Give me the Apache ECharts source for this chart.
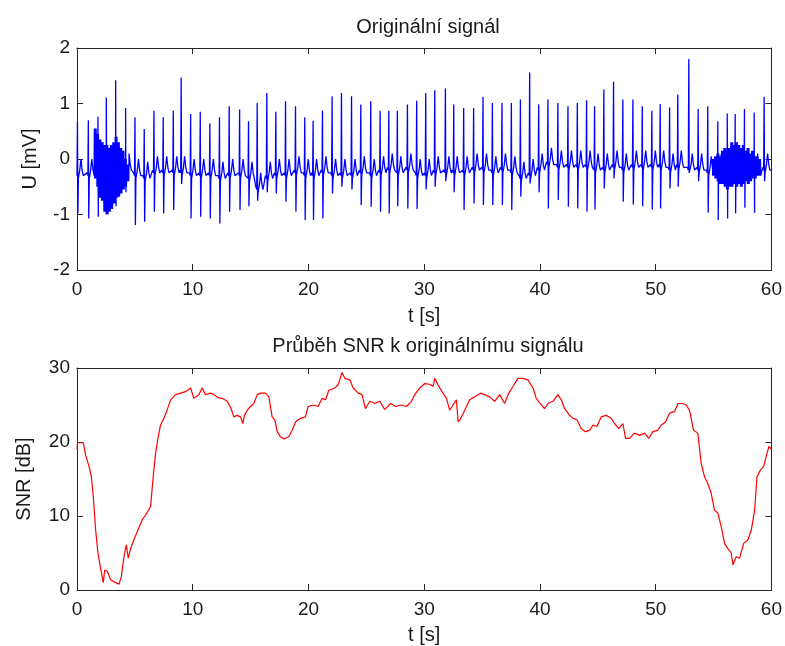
<!DOCTYPE html>
<html><head><meta charset="utf-8">
<script src="https://cdn.jsdelivr.net/npm/echarts@6/dist/echarts.min.js"></script>
<style>html,body{margin:0;padding:0;background:#fff}#c{width:785px;height:646px}</style>
</head><body><div id="c"></div>
<script>
// ---- data ----
const xTicks = [0, 10, 20, 30, 40, 50, 60];
const uTicks = [-2, -1, 0, 1, 2];
const snrTicks = [0, 10, 20, 30];

// beats: [time s, R peak mV, S trough mV, baseline mV]
const beats = [
 [0.04,0.67,-0.98,-0.30],[0.98,0.70,-1.07,-0.30],[1.81,0.76,-1.04,-0.20],[2.53,1.11,-0.95,-0.20],
 [3.34,1.42,-0.85,-0.20],[4.20,0.92,-0.60,-0.20],[5.01,0.75,-1.19,-0.30],[5.81,0.54,-1.13,-0.35],
 [6.65,0.87,-0.95,-0.25],[7.45,0.75,-0.98,-0.25],[8.32,0.87,-0.92,-0.25],[9.00,1.47,-0.45,-0.25],
 [9.82,0.81,-1.07,-0.30],[10.65,0.85,-1.04,-0.30],[11.48,0.64,-1.07,-0.30],[12.31,0.75,-1.16,-0.35],
 [13.15,0.95,-0.95,-0.30],[14.05,0.89,-0.92,-0.30],[14.82,0.68,-0.85,-0.35],[15.57,1.01,-0.75,-0.55],
 [16.40,1.19,-0.60,-0.35],[17.18,0.85,-0.62,-0.30],[18.02,1.04,-0.77,-0.30],[18.88,0.95,-0.95,-0.25],
 [19.68,0.75,-1.10,-0.30],[20.40,0.69,-1.10,-0.30],[21.21,0.87,-1.07,-0.25],[22.04,1.13,-0.62,-0.30],
 [22.85,1.19,-0.50,-0.30],[23.72,1.13,-0.55,-0.30],[24.52,0.98,-0.83,-0.25],[25.38,1.04,-0.86,-0.30],
 [26.19,0.87,-0.95,-0.25],[26.94,0.87,-0.98,-0.20],[27.68,0.87,-0.85,-0.25],[28.55,0.98,-0.89,-0.20],
 [29.35,1.05,-0.90,-0.30],[30.13,1.19,-0.55,-0.30],[30.91,1.24,-0.50,-0.25],[31.83,1.27,-0.40,-0.25],
 [32.55,0.98,-0.60,-0.25],[33.41,0.92,-0.92,-0.25],[34.27,0.92,-0.80,-0.20],[35.08,1.12,-0.83,-0.20],
 [35.89,1.01,-0.83,-0.25],[36.72,1.01,-0.83,-0.20],[37.53,1.01,-0.92,-0.25],[38.31,1.07,-0.68,-0.35],
 [39.11,1.56,-0.44,-0.30],[39.89,0.98,-0.60,-0.20],[40.69,1.07,-0.89,-0.10],[41.55,1.01,-0.74,-0.15],
 [42.42,0.95,-0.86,-0.15],[43.23,1.01,-0.89,-0.15],[44.03,1.06,-0.95,-0.15],[44.72,0.95,-0.91,-0.20],
 [45.52,1.25,-0.53,-0.20],[46.36,1.39,-0.35,-0.15],[47.16,1.07,-0.77,-0.20],[48.03,1.07,-0.82,-0.15],
 [48.84,0.95,-0.85,-0.15],[49.67,0.87,-0.91,-0.15],[50.39,0.99,-0.89,-0.15],[51.20,0.93,-0.53,-0.20],
 [51.91,1.16,-0.50,-0.15],[52.86,1.80,-0.25,-0.20],[53.67,0.90,-0.40,-0.20],[54.50,0.95,-0.97,-0.25],
 [55.37,0.68,-1.10,-0.20],[56.18,0.82,-1.07,-0.15],[56.87,0.81,-0.98,-0.15],[57.67,0.90,-0.88,-0.15],
 [58.51,0.84,-0.97,-0.20],[59.37,1.12,-0.40,-0.20]
];

// noisy stretches: [window start s, upper edge mV, lower edge mV]
const noiseA = [
 [1.5,0.55,-0.35],[1.7,0.45,-0.50],[1.9,0.35,-0.70],[2.1,0.30,-0.75],[2.3,0.25,-0.95],
 [2.5,0.25,-1.00],[2.7,0.20,-0.95],[2.9,0.25,-0.90],[3.1,0.30,-0.80],[3.3,0.40,-0.70],
 [3.5,0.30,-0.68],[3.7,0.20,-0.62],[3.9,0.15,-0.55],[4.1,0.00,-0.50],[4.3,-0.10,-0.40]
];
const noiseB = [
 [54.9,0.00,-0.30],[55.1,0.05,-0.35],[55.3,0.10,-0.40],[55.5,0.05,-0.45],[55.7,0.15,-0.45],
 [55.9,0.20,-0.50],[56.1,0.15,-0.55],[56.3,0.20,-0.50],[56.5,0.30,-0.50],[56.7,0.25,-0.45],
 [56.9,0.30,-0.50],[57.1,0.25,-0.45],[57.3,0.20,-0.50],[57.5,0.25,-0.45],[57.7,0.15,-0.40],
 [57.9,0.20,-0.45],[58.1,0.10,-0.40],[58.3,0.15,-0.35],[58.5,0.05,-0.35],[58.7,0.05,-0.30],
 [58.9,0.00,-0.30]
];
const ecgEnd = [60, -0.20];

// SNR curve: [time s, SNR dB]
const snrPoints = [
 [0,19.0],[0.05,19.9],[0.55,19.9],[0.75,18.2],[1.04,16.7],[1.24,15.3],[1.41,12.6],[1.61,8.1],
 [1.81,5.0],[2.04,2.9],[2.27,1.0],[2.39,2.7],[2.62,2.5],[2.9,1.4],[3.19,1.1],[3.63,0.8],
 [3.83,1.8],[4.06,4.5],[4.26,6.1],[4.43,4.3],[4.63,5.6],[4.92,6.8],[5.21,7.9],[5.64,9.5],
 [5.93,10.1],[6.36,11.3],[6.56,14.9],[6.79,18.5],[6.99,20.5],[7.22,22.3],[7.45,23.0],[7.74,24.1],
 [8.09,25.7],[8.52,26.4],[8.95,26.6],[9.38,26.8],[9.81,27.3],[10.1,25.9],[10.53,26.4],[10.82,27.3],
 [11.1,26.4],[11.54,26.6],[11.83,26.4],[12.17,26.0],[12.55,25.9],[12.98,25.5],[13.32,24.5],[13.55,23.4],
 [13.84,23.6],[14.13,23.4],[14.33,22.5],[14.47,23.6],[14.71,24.3],[14.99,24.8],[15.28,25.2],[15.57,26.4],
 [15.86,26.6],[16.29,26.6],[16.58,26.1],[16.86,23.4],[17.09,23.0],[17.3,21.4],[17.58,20.7],[17.87,20.4],
 [18.3,20.7],[18.59,21.6],[18.88,22.7],[19.31,23.2],[19.74,23.4],[19.97,24.8],[20.4,25.0],[20.83,24.8],
 [21.18,25.9],[21.47,25.7],[21.76,27.0],[22.27,27.3],[22.56,27.7],[22.9,29.4],[23.14,28.6],[23.57,28.4],
 [23.86,27.3],[24.29,26.6],[24.63,26.4],[24.92,24.5],[25.3,25.5],[25.73,25.2],[26.16,25.5],[26.59,24.4],
 [27.11,25.2],[27.52,24.8],[28.03,25.0],[28.46,24.8],[28.9,25.5],[29.18,26.4],[29.62,27.3],[30.05,27.9],
 [30.48,27.8],[30.77,27.5],[30.91,28.6],[31.2,27.7],[31.54,26.8],[31.92,25.9],[32.2,24.3],[32.49,25.0],
 [32.78,25.7],[32.93,22.7],[33.16,23.2],[33.5,24.3],[33.93,25.7],[34.36,26.1],[34.88,26.6],[35.22,26.4],
 [35.66,26.1],[36.09,25.5],[36.52,26.4],[36.95,25.2],[37.3,26.6],[37.67,27.5],[38.1,28.6],[38.53,28.6],
 [38.96,28.4],[39.4,27.3],[39.68,25.9],[39.97,25.3],[40.4,24.5],[40.69,25.2],[41.12,25.5],[41.55,26.4],
 [41.84,25.7],[42.13,24.5],[42.56,23.6],[42.85,23.2],[43.2,23.0],[43.57,21.8],[43.95,21.4],[44.3,21.6],
 [44.58,22.3],[44.92,22.1],[45.3,23.4],[45.73,23.6],[46.16,23.2],[46.45,22.5],[46.82,21.8],[47.16,22.5],
 [47.4,20.5],[47.74,20.5],[48.17,21.2],[48.6,20.9],[49.03,21.2],[49.41,20.5],[49.76,21.4],[50.19,21.6],
 [50.48,22.3],[50.85,22.7],[51.2,23.9],[51.63,24.1],[51.92,25.2],[52.35,25.2],[52.63,25.0],[52.92,24.3],
 [53.27,21.6],[53.64,21.2],[53.93,17.1],[54.22,15.3],[54.5,14.4],[54.79,13.1],[55.08,10.8],[55.37,10.4],
 [55.66,8.6],[55.95,6.3],[56.24,5.6],[56.53,5.0],[56.67,3.4],[56.96,4.5],[57.25,4.3],[57.4,4.5],
 [57.6,6.3],[57.97,6.8],[58.26,8.1],[58.55,10.8],[58.75,15.3],[59.04,16.2],[59.33,16.7],[59.62,18.5],
 [59.79,19.4],[60.0,19.0]
];

// ---- build ECG polyline from beat readings (P, Q, R, S, ST, T shape per beat) ----
const shapeDt = [-0.12, -0.04, 0, 0.035, 0.08, 0.20, 0.30, 0.40, 0.50];
const pts = [[0, beats[0][3]]];
beats.forEach(([t, r, s, b]) => {
  const lv = [b + 0.05, b, r, s, b - 0.05, b + 0.10, b + 0.30, b + 0.10, b];
  shapeDt.forEach((dt, k) => { const tt = t + dt; if (tt > 0 && tt < 60) pts.push([tt, lv[k]]); });
});
[noiseA, noiseB].forEach(noise => noise.forEach(([t0, hi, lo]) => {
  for (let k = 0; k < 8; k++) pts.push([t0 + k * 0.025, k % 2 ? lo : hi]);
}));
pts.push(ecgEnd);
pts.sort((a, b) => a[0] - b[0]);

// ---- chart ----
const FONT = '"Liberation Sans", Arial, sans-serif';
const AX = '#262626';
const TXT = '#1a1a1a';
function xAxis(grid, pos, labels, name, gap) {
  return {
    type: 'value', gridIndex: grid, position: pos, min: xTicks[0], max: xTicks[xTicks.length - 1],
    interval: xTicks[1] - xTicks[0],
    axisLine: { show: true, onZero: false, lineStyle: { color: AX, width: 1 } },
    axisTick: { show: true, inside: true, length: 6, lineStyle: { color: AX } },
    axisLabel: { show: labels, margin: 10, fontSize: 19, color: TXT, fontFamily: FONT },
    splitLine: { show: false },
    name: name, nameLocation: 'middle', nameGap: gap,
    nameTextStyle: { fontSize: 20, color: TXT, fontFamily: FONT }
  };
}
function yAxis(grid, pos, labels, ticks, name, gap) {
  return {
    type: 'value', gridIndex: grid, position: pos, min: ticks[0], max: ticks[ticks.length - 1],
    interval: ticks[1] - ticks[0],
    axisLine: { show: true, onZero: false, lineStyle: { color: AX, width: 1 } },
    axisTick: { show: true, inside: true, length: 6, lineStyle: { color: AX } },
    axisLabel: { show: labels, margin: 7, fontSize: 19, color: TXT, fontFamily: FONT },
    splitLine: { show: false },
    name: name, nameLocation: 'middle', nameGap: gap,
    nameTextStyle: { fontSize: 20, color: TXT, fontFamily: FONT }
  };
}
const chart = echarts.init(document.getElementById('c'), null, { renderer: 'canvas' });
chart.setOption({
  animation: false,
  backgroundColor: '#ffffff',
  textStyle: { fontFamily: FONT },
  title: [
    { text: 'Originální signál', left: 423, top: 12, textAlign: 'center',
      textStyle: { fontSize: 20, fontWeight: 'normal', color: TXT, fontFamily: FONT } },
    { text: 'Průběh SNR k originálnímu signálu', left: 423, top: 331, textAlign: 'center',
      textStyle: { fontSize: 20, fontWeight: 'normal', color: TXT, fontFamily: FONT } }
  ],
  grid: [
    { left: 77, top: 48, width: 695, height: 222, containLabel: false },
    { left: 77, top: 368, width: 695, height: 222, containLabel: false }
  ],
  xAxis: [
    xAxis(0, 'bottom', true, 't [s]', 36),
    xAxis(0, 'top', false, '', 0),
    xAxis(1, 'bottom', true, 't [s]', 35),
    xAxis(1, 'top', false, '', 0)
  ],
  yAxis: [
    yAxis(0, 'left', true, uTicks, 'U [mV]', 37),
    yAxis(0, 'right', false, uTicks, '', 0),
    yAxis(1, 'left', true, snrTicks, 'SNR [dB]', 43),
    yAxis(1, 'right', false, snrTicks, '', 0)
  ],
  series: [
    { type: 'line', xAxisIndex: 0, yAxisIndex: 0, data: pts, showSymbol: false, symbol: 'none',
      lineStyle: { color: '#0000ff', width: 1.3 }, itemStyle: { color: '#0000ff' }, clip: true, silent: true },
    { type: 'line', xAxisIndex: 2, yAxisIndex: 2, data: snrPoints, showSymbol: false, symbol: 'none',
      lineStyle: { color: '#ff0000', width: 1.2 }, itemStyle: { color: '#ff0000' }, clip: true, silent: true }
  ]
});
</script></body></html>
